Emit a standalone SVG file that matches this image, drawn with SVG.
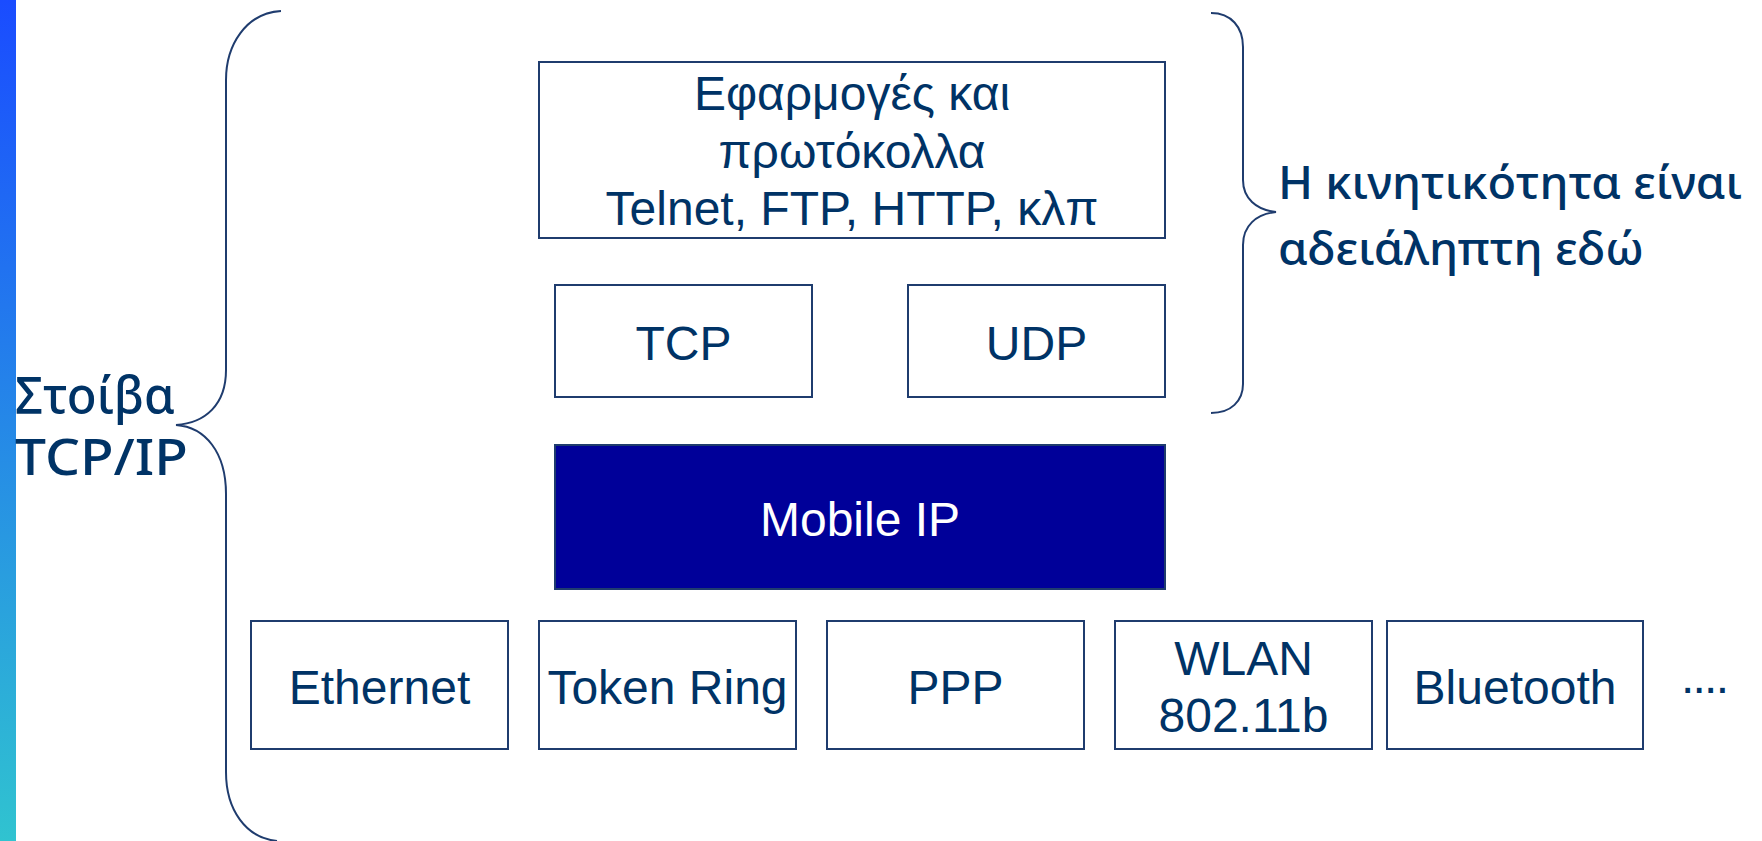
<svg xmlns="http://www.w3.org/2000/svg" width="1762" height="841" viewBox="0 0 1762 841">
<defs>
<linearGradient id="bar" x1="0" y1="0" x2="0" y2="1">
<stop offset="0" stop-color="#1a4cff"/>
<stop offset="1" stop-color="#30c3d0"/>
</linearGradient>
<style>
.box{fill:#ffffff;stroke:#1f3c6e;stroke-width:2}
.dark{fill:#000099;stroke:#1f3c6e;stroke-width:2}
.t{font-family:"Liberation Sans",Arial,sans-serif;font-size:48px;fill:#003366;text-anchor:middle}
.w{fill:#ffffff}
.hand{font-family:"Noto Sans","DejaVu Sans",sans-serif;font-size:50px;font-weight:500;fill:#003366}
.hs{font-size:45px}
.brace{fill:none;stroke:#1f3c6e;stroke-width:2}
</style>
</defs>
<rect x="0" y="0" width="1762" height="841" fill="#ffffff"/>
<rect x="0" y="0" width="16" height="841" fill="url(#bar)"/>

<g id="braces">
<path class="brace" d="M281,11 C246,13 226,45 226,80 L226,370 C226,405 205,423 176,425 C205,427 226,452 226,494 L226,772 C226,810 246,838 277,841"/>
<path class="brace" d="M1211,13 C1231,13 1243,27 1243,47 L1243,180 C1243,198 1256,210 1276,212 C1256,214 1243,226 1243,245 L1243,384 C1243,401 1231,413 1211,413"/>
</g>

<g id="label-stack">
<text class="hand" x="15" y="413" textLength="160" lengthAdjust="spacingAndGlyphs">Στοίβα</text>
<text class="hand" x="15" y="475" textLength="173" lengthAdjust="spacingAndGlyphs">TCP/IP</text>
</g>
<g id="label-mobility">
<text class="hand hs" x="1278" y="199" textLength="464" lengthAdjust="spacingAndGlyphs">Η κινητικότητα είναι</text>
<text class="hand hs" x="1278" y="265" textLength="366" lengthAdjust="spacingAndGlyphs">αδειάληπτη εδώ</text>
</g>

<g id="apps">
<rect class="box" x="539" y="62" width="626" height="176"/>
<text class="t" x="852" y="110">Εφαρμογές και</text>
<text class="t" x="852" y="168">πρωτόκολλα</text>
<text class="t" x="852" y="225">Telnet, FTP, HTTP, κλπ</text>
</g>
<g id="tcp">
<rect class="box" x="555" y="285" width="257" height="112"/>
<text class="t" x="683.5" y="360">TCP</text>
</g>
<g id="udp">
<rect class="box" x="908" y="285" width="257" height="112"/>
<text class="t" x="1036.5" y="360">UDP</text>
</g>
<g id="mobileip">
<rect class="dark" x="555" y="445" width="610" height="144"/>
<text class="t w" x="860" y="536">Mobile IP</text>
</g>
<g id="ethernet">
<rect class="box" x="251" y="621" width="257" height="128"/>
<text class="t" x="379.5" y="704">Ethernet</text>
</g>
<g id="tokenring">
<rect class="box" x="539" y="621" width="257" height="128"/>
<text class="t" x="667.5" y="704">Token Ring</text>
</g>
<g id="ppp">
<rect class="box" x="827" y="621" width="257" height="128"/>
<text class="t" x="955.5" y="704">PPP</text>
</g>
<g id="wlan">
<rect class="box" x="1115" y="621" width="257" height="128"/>
<text class="t" x="1243.5" y="675">WLAN</text>
<text class="t" x="1243.5" y="732">802.11b</text>
</g>
<g id="bluetooth">
<rect class="box" x="1387" y="621" width="256" height="128"/>
<text class="t" x="1515" y="704">Bluetooth</text>
</g>
<g id="more">
<text class="t" x="1705" y="693" textLength="48" lengthAdjust="spacing">....</text>
</g>
</svg>
